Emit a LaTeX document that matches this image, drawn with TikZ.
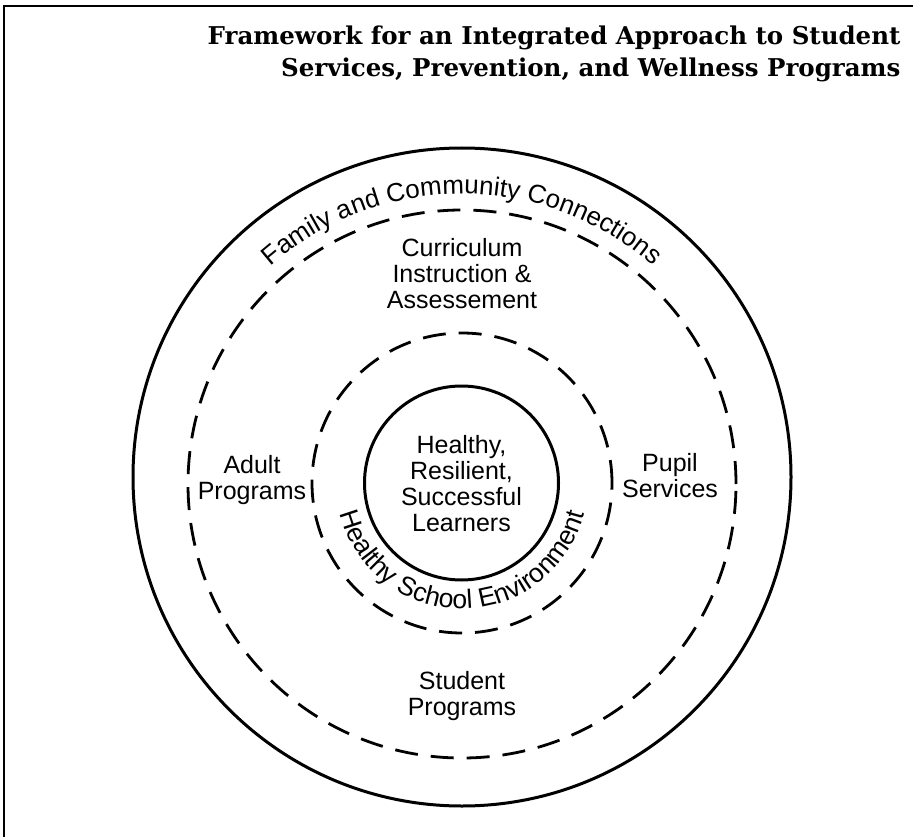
\documentclass[tikz,border=0pt]{standalone}
\usepackage{fontspec}
\newfontfamily\labelfont{Liberation Sans}
\newfontfamily\titlefont{DejaVu Serif}
\usetikzlibrary{decorations.text}

\tikzset{
  ring/.style={circle, draw, line width=3pt, inner sep=0pt},
  dashring/.style={ring, line width=2.8pt, dash pattern=on 23pt off 13pt},
  lbl/.style={font=\labelfont\fontsize{25}{26}\selectfont, align=center},
}

\begin{document}
\begin{tikzpicture}[x=1pt, y=-1pt]
  \useasboundingbox (0,0) rectangle (913,837);
  \draw[line width=1.6pt] (4,837) -- (4,6) -- (913,6);
  \node[font=\titlefont\bfseries\fontsize{24.5}{32}\selectfont, align=right, anchor=base east] (title) at (904,77)
    {Framework for an Integrated Approach to Student\\Services, Prevention, and Wellness Programs};

  \coordinate (mid) at (462,483);
  \node[ring, minimum size=658pt] (outer) at (462,477) {};
  \node[dashring, minimum size=548pt] (family) at (462,484) {};
  \node[dashring, minimum size=300pt] (school) at (462,483) {};
  \node[ring, minimum size=194pt] (learners) at (461.5,483) {};

  \node[lbl] (curriculum) at (462,274) {Curriculum\\Instruction \&\\Assessement};
  \node[lbl] (adult) at (252,480) {Adult\\Programs};
  \node[lbl] (pupil) at (670,476) {Pupil\\Services};
  \node[lbl] (student) at (462,696) {Student\\Programs};
  \node[lbl] (center) at (461.5,484) {Healthy,\\Resilient,\\Successful\\Learners};

  \path[decorate, decoration={text along path, text align=center,
      text={|\labelfont\fontsize{26}{26}\selectfont|Family and Community Connections}}]
    (mid) ++(170:289pt) arc[start angle=170, end angle=10, radius=289pt];
  \path[decorate, decoration={text along path, text align=center,
      text={|\labelfont\fontsize{26.5}{26}\selectfont|Healthy School Environment}}]
    (mid) ++(180:126pt) arc[start angle=180, end angle=360, radius=126pt];
\end{tikzpicture}
\end{document}
